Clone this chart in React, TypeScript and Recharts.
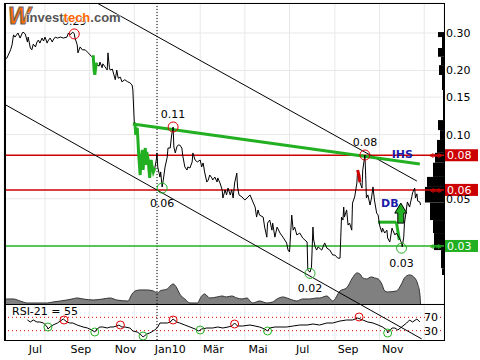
import React from "react"
import {
  ComposedChart,
  Line,
  Area,
  XAxis,
  YAxis,
  CartesianGrid,
  ReferenceLine,
  ReferenceDot,
  ReferenceArea,
} from "recharts"

// x values are days counted from 2010-01-01
const X_MIN = -209
const X_MAX = 392
const PRICE_MIN = 0.01602
const PRICE_MAX = 0.4149
// the RSI panel continues the log price scale below the main panel
const RSI_PANEL_PRICE = [0.01085, 0.01602]
const RSI_MIN = 2
const RSI_MAX = 110

const priceDays = [
  -209, -205, -200, -198, -196, -194, -190, -187, -184, -183, -180, -177, -176, -173, -171, -169, -166, -164,
  -162, -160, -157, -155, -153, -150, -149, -146, -143, -142, -139, -136, -132, -128, -123, -121, -119, -115,
  -113, -112, -109, -108, -105, -102, -98, -94, -89, -87, -86, -85, -83, -82, -79, -78, -75, -74, -71, -68,
  -67, -65, -64, -61, -60, -57, -55, -53, -50, -48, -44, -40, -37, -34, -33, -31, -30, -29, -27, -26, -25,
  -23, -22, -20, -19, -18, -16, -15, -14, -12, -11, -10, -8, -7, -5, -3, -1, 0, 1, 4, 5, 7, 8, 11, 14, 15, 18,
  20, 22, 23, 25, 27, 29, 31, 34, 35, 38, 41, 42, 45, 48, 49, 52, 55, 59, 61, 63, 65, 68, 70, 72, 75, 76, 79,
  82, 83, 86, 89, 90, 93, 95, 97, 100, 102, 104, 106, 109, 110, 112, 116, 120, 123, 127, 131, 134, 136, 138,
  140, 145, 147, 150, 151, 154, 157, 158, 161, 164, 168, 172, 177, 179, 181, 184, 186, 188, 191, 195, 199,
  205, 206, 209, 211, 213, 214, 216, 218, 220, 225, 229, 232, 236, 240, 243, 247, 250, 251, 252, 254, 255,
  256, 259, 261, 263, 266, 267, 270, 273, 274, 276, 277, 280, 281, 284, 285, 286, 288, 291, 293, 295, 297,
  300, 302, 304, 307, 308, 311, 314, 315, 318, 321, 322, 325, 327, 331, 334, 335, 337, 338, 340, 341, 342,
  345, 348, 349, 352, 353, 355, 356, 359, 360,
]
const priceClose = [
  0.224, 0.229, 0.25, 0.264, 0.294, 0.287, 0.3, 0.284, 0.3, 0.303, 0.297, 0.272, 0.287, 0.255, 0.25, 0.266, 0.258, 0.272,
  0.278, 0.269, 0.284, 0.275, 0.287, 0.269, 0.275, 0.284, 0.272, 0.278, 0.287, 0.284, 0.287, 0.284, 0.287, 0.3, 0.294, 0.303,
  0.297, 0.284, 0.264, 0.242, 0.258, 0.25, 0.25, 0.242, 0.232, 0.232, 0.201, 0.191, 0.217, 0.212, 0.21, 0.219, 0.206, 0.215, 0.208, 0.201,
  0.242, 0.206, 0.201, 0.203, 0.197, 0.181, 0.201, 0.184, 0.186, 0.177, 0.181, 0.177, 0.175, 0.171, 0.162, 0.113, 0.112, 0.0996, 0.1075, 0.0934, 0.0802,
  0.0646, 0.076, 0.0847, 0.0682, 0.0777, 0.0865, 0.072, 0.0829, 0.076, 0.0682, 0.0626, 0.076, 0.072, 0.0668, 0.0697, 0.076, 0.082, 0.0705, 0.0632, 0.0668, 0.0568, 0.0593, 0.0705, 0.0785, 0.0865, 0.0865,
  0.0996, 0.1086, 0.0875, 0.082, 0.0875, 0.0894, 0.0894, 0.0865, 0.0802, 0.0705, 0.0682, 0.0705, 0.0697, 0.0744, 0.082, 0.076, 0.0744, 0.076, 0.0705, 0.0736, 0.0668, 0.0599, 0.0612, 0.0646, 0.0626, 0.0612, 0.0632,
  0.0599, 0.0626, 0.0593, 0.055, 0.0504, 0.055, 0.0521, 0.0561, 0.0521, 0.055, 0.0504, 0.0593, 0.066, 0.0568, 0.0521, 0.051, 0.0493, 0.0504, 0.0521, 0.0483, 0.0457, 0.041, 0.0443,
  0.0419, 0.041, 0.0368, 0.033, 0.0384, 0.0397, 0.0356, 0.0384, 0.033, 0.0368, 0.0345, 0.033, 0.031, 0.0287, 0.0281, 0.0419, 0.0356, 0.0368, 0.0338, 0.0345, 0.0327,
  0.0313, 0.0231, 0.0226, 0.0239, 0.0368, 0.032, 0.0297, 0.0287, 0.0297, 0.0287, 0.031, 0.0293, 0.0287, 0.0272, 0.0272, 0.0263, 0.0263, 0.033, 0.041, 0.0397, 0.0457,
  0.041, 0.0443, 0.0376, 0.0384, 0.0356, 0.0477, 0.051, 0.0593, 0.0682, 0.0639, 0.0599, 0.0561, 0.0682, 0.0802, 0.0646, 0.0504, 0.0521, 0.0467, 0.0504, 0.0568, 0.0493,
  0.0428, 0.0419, 0.0376, 0.0348, 0.0364, 0.0345, 0.0356, 0.0327, 0.0313, 0.0364, 0.0356, 0.0338, 0.0345, 0.0327, 0.031, 0.0297, 0.033, 0.0384, 0.0428, 0.0457, 0.0483,
  0.0457, 0.051, 0.0532, 0.0561, 0.0504, 0.0527, 0.0488, 0.0483, 0.0467,
]

// smoothed volume, thousands
const volDays = [
  -209, -205, -196, -187, -177, -150, -142, -132, -123, -116, -109, -101, -87, -74, -64, -55, -40, -34, -30, -23, -14, -5,
  1, 4, 14, 22, 27, 31, 38, 45, 55, 61, 65, 72, 82, 89, 95, 102, 109, 116, 123, 127, 131, 140, 150, 158, 164, 172, 181,
  191, 199, 209, 218, 222, 232, 240, 250, 259, 267, 273, 277, 281, 286, 293, 297, 302, 307, 311, 315, 327, 334, 338, 345,
  352, 356, 359, 360,
]
const volAvg = [
  30, 50, 50, 30, 10, 10, 20, 30, 40, 50, 60, 50, 40, 50, 60, 40, 30, 100, 130, 140, 140, 130,
  110, 130, 150, 200, 160, 100, 50, 10, 10, 80, 100, 60, 70, 80, 70, 80, 60, 50, 60, 30, 10, 30, 10, 20, 50, 70, 50,
  30, 50, 50, 60, 60, 80, 30, 130, 160, 260, 310, 300, 260, 250, 270, 260, 250, 200, 130, 120, 130, 200, 260, 290,
  260, 200, 100, 0,
]

const rsiDays = [
  -177, -173, -169, -164, -160, -155, -150, -149, -146, -142, -136, -132, -128, -123, -119, -115, -109, -105, -101, -95,
  -89, -85, -82, -78, -74, -68, -64, -60, -55, -52, -48, -44, -37, -33, -27, -23, -19, -14, -10, -3, 1, 4, 8, 14, 18, 22,
  27, 31, 38, 45, 52, 57, 61, 68, 76, 83, 90, 97, 102, 106, 110, 117, 127, 134, 140, 147, 151, 154, 161, 168, 177, 186,
  195, 205, 213, 222, 232, 240, 250, 259, 267, 274, 281, 288, 295, 302, 308, 314, 315, 321, 325, 329, 334, 341, 345, 349,
  355, 359,
]
const rsiValue = [
  62, 56, 62, 56, 56, 53, 41, 35, 41, 47, 53, 59, 65, 56, 53, 53, 47, 44, 41, 38,
  32, 26, 35, 41, 41, 38, 41, 41, 44, 47, 41, 41, 38, 29, 26, 20, 11, 20, 23, 32, 41, 53, 53, 53, 56, 65,
  56, 53, 47, 41, 35, 29, 35, 38, 38, 41, 38, 41, 44, 53, 44, 44, 47, 44, 41, 35, 29, 38, 41, 41, 41, 44,
  47, 47, 50, 47, 53, 53, 59, 62, 62, 68, 62, 56, 53, 47, 41, 32, 23, 38, 38, 32, 41, 53, 62, 56,
  65, 56,
]

// volume-by-price profile on the right edge
const profileLow = [0.287, 0.255, 0.232, 0.212, 0.1905, 0.162, 0.117, 0.105, 0.0944, 0.0821, 0.0738, 0.0633, 0.0568, 0.048, 0.0397, 0.0345, 0.0287, 0.0236, 0.0219]
const profileHigh = [0.303, 0.287, 0.255, 0.232, 0.212, 0.1905, 0.162, 0.117, 0.105, 0.0944, 0.0821, 0.0738, 0.0633, 0.0568, 0.048, 0.0397, 0.0345, 0.0287, 0.0236]
const profileVol = [6, 2, 6, 3, 5, 2, 1, 6, 4, 7, 9, 11, 17, 19, 14, 11, 10, 3, 2]
const PROFILE_DAYS_PER_UNIT = 1.364

const priceTicks = [0.05, 0.1, 0.15, 0.2, 0.3]
const gridMonths = [
  "2009-07", "2009-08", "2009-09", "2009-10", "2009-11", "2009-12", "2010-01", "2010-02", "2010-03", "2010-04",
  "2010-05", "2010-06", "2010-07", "2010-08", "2010-09", "2010-10", "2010-11", "2010-12", "2011-01",
]
const labelMonths = ["2009-07", "2009-09", "2009-11", "2010-01", "2010-03", "2010-05", "2010-07", "2010-09", "2010-11"]
const labelNames = ["Jul", "Sep", "Nov", "Jan10", "Mär", "Mai", "Jul", "Sep", "Nov"]

const highMarks = [
  { d: -113, v: 0.297, text: "0.29" },
  { d: 22, v: 0.1086, text: "0.11" },
  { d: 284, v: 0.0802, text: "0.08" },
]
const lowMarks = [
  { d: 7, v: 0.0561, text: "0.06" },
  { d: 209, v: 0.0223, text: "0.02" },
  { d: 334, v: 0.0293, text: "0.03" },
]
const rsiHigh = [
  { d: -127, r: 62 }, { d: -50, r: 47 }, { d: 22, r: 62 }, { d: 106, r: 50 }, { d: 276, r: 71 },
]
const rsiLow = [
  { d: -149, r: 41 }, { d: -85, r: 26 }, { d: -19, r: 14 }, { d: 59, r: 32 }, { d: 151, r: 29 }, { d: 315, r: 23 },
]

const RED = "#cc0000"
const GREEN = "#22b022"
const levels = [
  { v: 0.08, text: "0.08", color: RED },
  { v: 0.055, text: "0.06", color: RED },
  { v: 0.03, text: "0.03", color: GREEN },
]
const signals = [
  { from: -89, to: -82, color: GREEN },
  { from: -31, to: -3, color: GREEN },
  { from: 274, to: 277, color: RED },
]
const upperChannel = [{ d: -82, v: 0.4149 }, { d: 355, v: 0.0605 }]
const lowerChannel = [{ d: -209, v: 0.1393 }, { d: 361.5, v: 0.01098 }]
const neckline = [{ d: -33, v: 0.1122 }, { d: 359, v: 0.0728 }]
const dbLines = [
  [{ d: 302, v: 0.0388 }, { d: 327, v: 0.0388 }],
  [{ d: 327, v: 0.0388 }, { d: 331, v: 0.032 }],
]

const FONT = "'DejaVu Sans', sans-serif"

const toDay = (ym: string, day = 1) => {
  const [y, m] = ym.split("-").map(Number)
  return (Date.UTC(y, m - 1, day) - Date.UTC(2010, 0, 1)) / 86400000
}
const gridDays = gridMonths.map((m) => toDay(m))
const labelDays = labelMonths.map((m) => toDay(m, 19))

const priceData = priceDays.map((d, i) => ({ d, close: priceClose[i] }))
const volData = volDays.map((d, i) => ({ d, vol: volAvg[i] }))
const rsiData = rsiDays.map((d, i) => ({ d, rsi: rsiValue[i] }))

function PriceTag(props: any) {
  const { cx, cy, text, color } = props
  return (
    <g>
      <text x={cx - 14} y={cy + 6} fill={color} fontSize={11} fontWeight="bold">
        **
      </text>
      <rect x={cx + 1} y={cy - 6} width={33} height={12} fill={color} />
      <text x={cx + 3} y={cy + 4} fill="#fff" fontSize={11}>
        {text}
      </text>
    </g>
  )
}

function UpArrow({ cx, cy }: any) {
  const pts = [[-3, 10], [3, 10], [3, 0], [6, 0], [0, -10], [-6, 0], [-3, 0]]
    .map(([dx, dy]) => `${cx + dx},${cy + dy}`)
    .join(" ")
  return <polygon points={pts} fill={GREEN} stroke="#000" strokeWidth={1} />
}

const textAt = (text: string, dy: number, color = "#000", bold = false) => (p: any) => (
  <text x={p.cx} y={p.cy + dy} textAnchor="middle" fill={color} fontSize={11} fontWeight={bold ? "bold" : "normal"}>
    {text}
  </text>
)

export default function App() {
  return (
    <div style={{ position: "absolute", left: 0, top: 0, width: 480, height: 360, background: "#fff", fontFamily: FONT }}>
      <div style={{ position: "absolute", left: 0, top: 0 }}>
        <ComposedChart width={480} height={304} margin={{ top: 3, right: 0, bottom: 0, left: 4 }}>
          <CartesianGrid stroke="#e8e8e8" />
          <XAxis dataKey="d" type="number" domain={[X_MIN, X_MAX]} allowDataOverflow ticks={gridDays} hide />
          <YAxis
            orientation="right"
            width={36}
            scale="log"
            domain={[PRICE_MIN, PRICE_MAX]}
            allowDataOverflow
            ticks={priceTicks}
            interval={0}
            tickFormatter={(v) => v.toFixed(2)}
            tickLine={false}
            axisLine={false}
            tickSize={0}
            tickMargin={2}
            tick={{ fill: "#000", fontSize: 11 }}
          />
          <YAxis yAxisId="vol" hide domain={[0, 3000]} />
          <Area
            data={volData}
            yAxisId="vol"
            dataKey="vol"
            type="monotone"
            stroke="#333"
            strokeWidth={1}
            fill="#808080"
            fillOpacity={1}
            isAnimationActive={false}
          />
          {profileVol.map((w, i) => (
            <ReferenceArea
              key={"pf" + i}
              x1={X_MAX - w * PROFILE_DAYS_PER_UNIT}
              x2={X_MAX}
              y1={profileLow[i]}
              y2={profileHigh[i]}
              fill="#000"
              fillOpacity={1}
              stroke="none"
              ifOverflow="visible"
            />
          ))}
          <ReferenceLine x={0} stroke="#000" strokeDasharray="1 2" />
          {levels.map((l) => (
            <ReferenceLine key={"lv" + l.text} y={l.v} stroke={l.color} strokeWidth={1.5} />
          ))}
          <ReferenceLine segment={[{ x: upperChannel[0].d, y: upperChannel[0].v }, { x: upperChannel[1].d, y: upperChannel[1].v }]} stroke="#000" ifOverflow="hidden" />
          <ReferenceLine segment={[{ x: lowerChannel[0].d, y: lowerChannel[0].v }, { x: lowerChannel[1].d, y: lowerChannel[1].v }]} stroke="#000" ifOverflow="hidden" />
          <ReferenceLine segment={[{ x: neckline[0].d, y: neckline[0].v }, { x: neckline[1].d, y: neckline[1].v }]} stroke={GREEN} strokeWidth={3} ifOverflow="hidden" />
          {dbLines.map((s, i) => (
            <ReferenceLine key={"db" + i} segment={[{ x: s[0].d, y: s[0].v }, { x: s[1].d, y: s[1].v }]} stroke={GREEN} strokeWidth={3} ifOverflow="hidden" />
          ))}
          <Line data={priceData} dataKey="close" stroke="#000" strokeWidth={1} dot={false} isAnimationActive={false} />
          {signals.map((s, i) => (
            <Line
              key={"sg" + i}
              data={priceData.filter((p) => p.d >= s.from && p.d <= s.to)}
              dataKey="close"
              stroke={s.color}
              strokeWidth={3}
              dot={false}
              isAnimationActive={false}
            />
          ))}
          {highMarks.map((m) => (
            <ReferenceDot key={"hc" + m.text} x={m.d} y={m.v} r={5} fill="none" stroke="#e00000" ifOverflow="visible" />
          ))}
          {lowMarks.map((m) => (
            <ReferenceDot key={"lc" + m.text} x={m.d} y={m.v} r={5} fill="none" stroke={GREEN} ifOverflow="visible" />
          ))}
          {highMarks.map((m) => (
            <ReferenceDot key={"ht" + m.text} x={m.d} y={m.v} ifOverflow="visible" shape={textAt(m.text, -9)} />
          ))}
          {lowMarks.map((m) => (
            <ReferenceDot key={"lt" + m.text} x={m.d} y={m.v} ifOverflow="visible" shape={textAt(m.text, 19)} />
          ))}
          <ReferenceDot x={335} y={0.081} ifOverflow="visible" shape={textAt("IHS", 4, "#1c1ca8", true)} />
          <ReferenceDot x={318} y={0.0477} ifOverflow="visible" shape={textAt("DB", 4, "#1c1ca8", true)} />
          <ReferenceDot x={333} y={0.0428} ifOverflow="visible" shape={(p: any) => <UpArrow cx={p.cx} cy={p.cy} />} />
          {levels.map((l) => (
            <ReferenceDot
              key={"tag" + l.text}
              x={X_MAX}
              y={l.v}
              ifOverflow="visible"
              shape={(p: any) => <PriceTag cx={p.cx} cy={p.cy} text={l.text} color={l.color} />}
            />
          ))}
        </ComposedChart>
      </div>

      <div style={{ position: "absolute", left: 0, top: 304 }}>
        <ComposedChart width={480} height={56} margin={{ top: 0, right: 36, bottom: 20, left: 4 }}>
          <CartesianGrid stroke="#e8e8e8" horizontal={false} />
          <XAxis dataKey="d" type="number" domain={[X_MIN, X_MAX]} allowDataOverflow ticks={gridDays} hide />
          <YAxis hide domain={[RSI_MIN, RSI_MAX]} allowDataOverflow />
          <YAxis yAxisId="px" hide scale="log" domain={RSI_PANEL_PRICE} allowDataOverflow />
          <ReferenceLine x={0} stroke="#000" strokeDasharray="1 2" />
          <ReferenceLine
            y={70}
            stroke={RED}
            strokeDasharray="1 3"
            label={{ value: "70", position: "insideRight", offset: 6, fill: "#000", fontSize: 11 }}
          />
          <ReferenceLine
            y={30}
            stroke={RED}
            strokeDasharray="1 3"
            label={{ value: "30", position: "insideRight", offset: 6, fill: "#000", fontSize: 11 }}
          />
          <ReferenceLine
            yAxisId="px"
            segment={[{ x: lowerChannel[0].d, y: lowerChannel[0].v }, { x: lowerChannel[1].d, y: lowerChannel[1].v }]}
            stroke="#000"
            ifOverflow="hidden"
          />
          <Line data={rsiData} dataKey="rsi" stroke="#000" strokeWidth={1} dot={false} isAnimationActive={false} />
          {rsiHigh.map((m, i) => (
            <ReferenceDot key={"rh" + i} x={m.d} y={m.r} r={4} fill="none" stroke="#e00000" ifOverflow="visible" />
          ))}
          {rsiLow.map((m, i) => (
            <ReferenceDot key={"rl" + i} x={m.d} y={m.r} r={4} fill="none" stroke={GREEN} ifOverflow="visible" />
          ))}
          {/* month labels, hung below the bottom of the RSI panel */}
          {labelDays.map((d, i) => (
            <ReferenceDot key={"ml" + i} x={d} y={RSI_MIN} ifOverflow="visible" shape={textAt(labelNames[i], 13)} />
          ))}
        </ComposedChart>
      </div>

      {/* frame */}
      <div
        style={{
          position: "absolute",
          left: 4,
          top: 3,
          width: 441,
          height: 338,
          boxSizing: "border-box",
          border: "1px solid #000",
          borderLeft: "2px solid #000",
          pointerEvents: "none",
        }}
      />
      <div style={{ position: "absolute", left: 4, top: 304, width: 441, height: 1, background: "#000" }} />

      <div style={{ position: "absolute", left: 12, top: 305, fontSize: 11, color: "#000", whiteSpace: "nowrap" }}>
        RSI-21 = 55
      </div>

      {/* logo */}
      <div style={{ position: "absolute", left: 8, top: 3, whiteSpace: "nowrap", lineHeight: "26px" }}>
        <span style={{ fontFamily: "'Liberation Sans', Arial", fontStyle: "italic", fontWeight: "bold", fontSize: 24, color: "#ff6a00", WebkitTextStroke: "1px #666" }}>
          W
        </span>
      </div>
      <div
        style={{
          position: "absolute",
          left: 26,
          top: 10,
          whiteSpace: "nowrap",
          fontFamily: "'Liberation Sans', Arial",
          fontWeight: "bold",
          fontSize: 13,
          lineHeight: "15px",
          textShadow: "0 0 2px #fff, 0 0 2px #fff, 0 1px 2px #fff",
        }}
      >
        <span style={{ color: "#555" }}>invest</span>
        <span style={{ color: "#ff6600" }}>tech</span>
        <span style={{ color: "#555" }}>.com</span>
      </div>
    </div>
  )
}
